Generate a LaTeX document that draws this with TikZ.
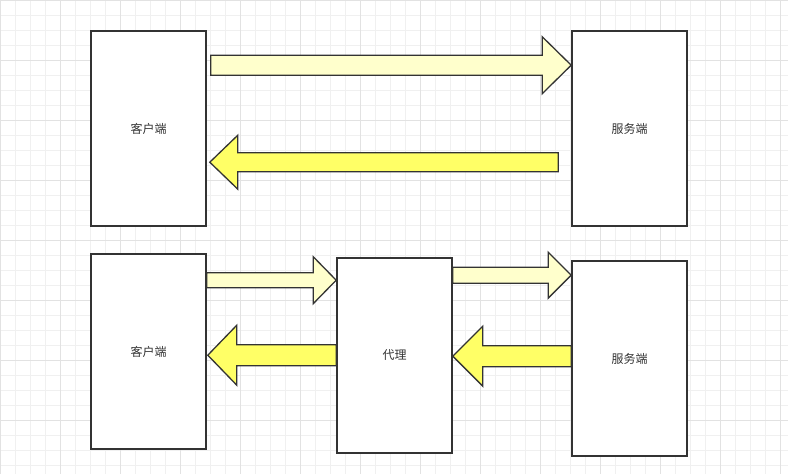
\documentclass[tikz,border=0pt]{standalone}
\usepackage{fontspec}
\newfontfamily\cjk{Noto Sans CJK SC}
\usetikzlibrary{calc}
\definecolor{linegray}{HTML}{333333}
\definecolor{textgray}{HTML}{333333}
\definecolor{paleyellow}{HTML}{FFFFCC}
\definecolor{brightyellow}{HTML}{FFFF66}
\definecolor{gridminor}{HTML}{F0F0F0}
\definecolor{gridmajor}{HTML}{E2E2E2}
\tikzset{
  box/.style={draw=linegray,fill=white,line width=1.6pt,minimum width=115,minimum height=195,
    inner sep=0pt,font=\cjk\fontsize{12}{14}\selectfont,text=textgray},
  fwd/.style={draw=linegray,fill=paleyellow,line width=1.3pt,line join=miter},
  back/.style={draw=linegray,fill=brightyellow,line width=1.3pt,line join=miter}
}
%% #1 style, #2 start, #3 tip, #4 half body, #5 half head, #6 head length
\newcommand{\blockarrow}[6]{%
  \draw[#1] let \p1=(#2), \p2=(#3), \n1={sign(\x2-\x1)} in
    (\x1,\y2+#4pt) -- (\x2-\n1*#6pt,\y2+#4pt) -- (\x2-\n1*#6pt,\y2+#5pt) -- (\x2,\y2)
    -- (\x2-\n1*#6pt,\y2-#5pt) -- (\x2-\n1*#6pt,\y2-#4pt) -- (\x1,\y2-#4pt) -- cycle;}
\begin{document}
\begin{tikzpicture}[x=1pt,y=-1pt]
  \useasboundingbox (0,0) rectangle (788,474);
  \fill[white] (0,0) rectangle (788,474);
  \draw[gridminor,line width=0.8pt,xstep=15pt,ystep=15pt] (0,0) grid (788,474);
  \draw[gridmajor,line width=0.8pt,xstep=60pt,ystep=60pt] (0,0) grid (788,474);
  %% direct connection
  \node[box] (cli1) at (148.5,128.5) {客户端};
  \node[box] (srv1) at (629.5,128.5) {服务端};
  %% through the proxy
  \node[box] (cli2) at (148.5,351.5) {客户端};
  \node[box] (prx) at (394.5,355.5) {代理};
  \node[box] (srv2) at (629.5,358.5) {服务端};
  %% block arrows
  \blockarrow{fwd}{$(cli1.north east)+(4,35)$}{$(srv1.north west)+(0,35)$}{10}{28.5}{29}
  \blockarrow{back}{$(srv1.north west)+(-13,132)$}{$(cli1.north east)+(3,132)$}{9.5}{27}{28}
  \blockarrow{fwd}{$(cli2.north east)+(0,23)$}{$(prx.north west)+(0,23)$}{7.5}{23.5}{23}
  \blockarrow{fwd}{$(prx.north east)+(0,15)$}{$(srv2.north west)+(0,15)$}{8}{23}{23}
  \blockarrow{back}{$(prx.north west)+(0,98)$}{$(cli2.north east)+(1,102)$}{10.5}{30}{29}
  \blockarrow{back}{$(srv2.north west)+(0,96)$}{$(prx.north east)+(0,99)$}{10.5}{30}{30}
\end{tikzpicture}
\end{document}
